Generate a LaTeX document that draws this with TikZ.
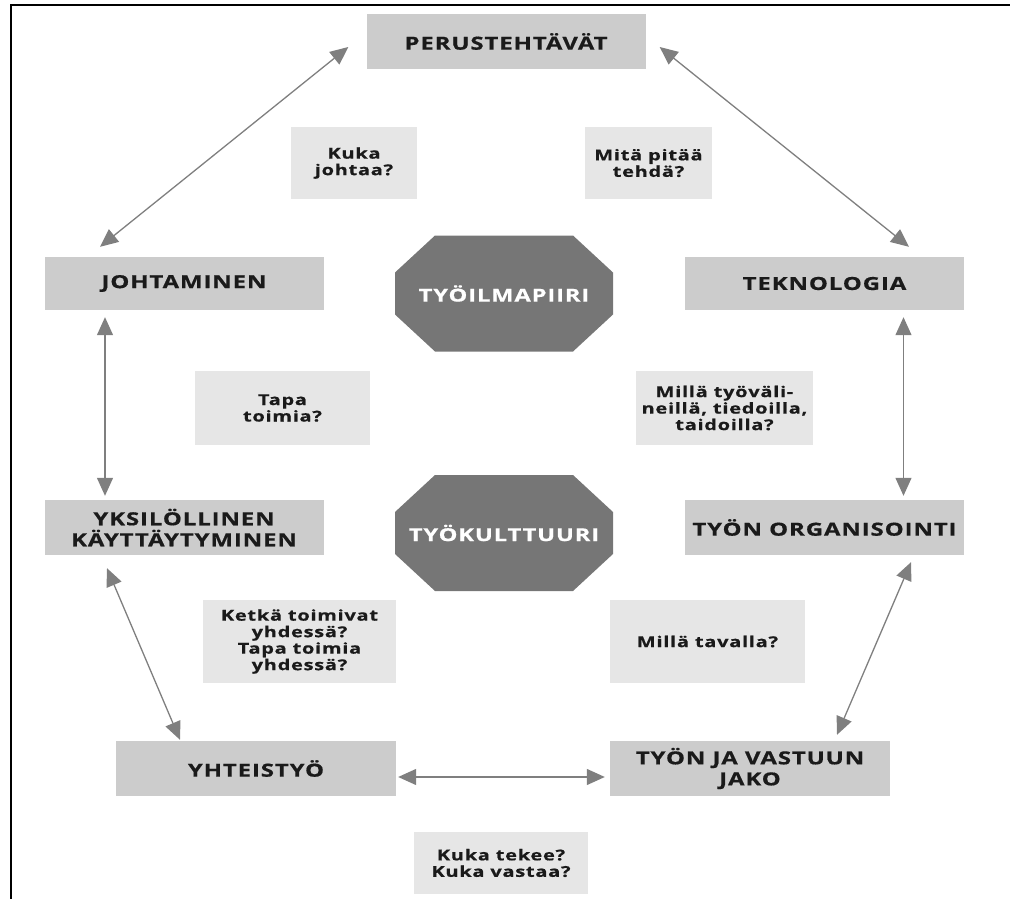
\documentclass[tikz,border=0pt]{standalone}
\usepackage{fontspec}
\usetikzlibrary{arrows.meta}
\newfontfamily\diagfont{Open Sans}[FakeStretch=1.33, LetterSpace=5, FakeBold=0.6]
\definecolor{boxgray}{HTML}{CCCCCC}
\definecolor{askgray}{HTML}{E6E6E6}
\definecolor{octgray}{HTML}{767676}
\definecolor{arrowgray}{HTML}{7F7F7F}
\definecolor{inkcolor}{HTML}{1A1A1A}

\begin{document}
\begin{tikzpicture}[x=1pt, y=-1pt,
    every node/.style={inner sep=0pt, align=center, text=inkcolor},
    topic/.style={fill=boxgray, minimum width=279, minimum height=55,
      font=\diagfont\bfseries\fontsize{18}{21}\selectfont},
    ask/.style={fill=askgray, font=\diagfont\bfseries\fontsize{15}{16.5}\selectfont},
    octa/.style={minimum width=218, minimum height=116, text=white,
      font=\diagfont\bfseries\fontsize{17.8}{19}\selectfont,
      path picture={\fill[octgray]
        ([xshift=40pt]path picture bounding box.north west)
        -- ([xshift=-40pt]path picture bounding box.north east)
        -- ([yshift=-37pt]path picture bounding box.north east)
        -- ([yshift=37pt]path picture bounding box.south east)
        -- ([xshift=-40pt]path picture bounding box.south east)
        -- ([xshift=40pt]path picture bounding box.south west)
        -- ([yshift=37pt]path picture bounding box.south west)
        -- ([yshift=-37pt]path picture bounding box.north west) -- cycle;}},
    link/.style={arrowgray, line width=1.3pt,
      {Triangle[length=18pt, width=16pt]}-{Triangle[length=18pt, width=16pt]}}]

    \useasboundingbox (0,0) rectangle (1010,899);

    % Frame
    \draw[line width=2pt] (10.5,899) -- (10.5,5.5) -- (1010,5.5);

    % Topics
    \node[topic] (perus) at (506,41.5) {PERUSTEHTÄVÄT};
    \node[topic, minimum height=53] (joh) at (184,283.5) {JOHTAMINEN};
    \node[topic, minimum height=53] (tekno) at (824.5,283.5) {TEKNOLOGIA};
    \node[topic] (yksi) at (184,527.5) {YKSILÖLLINEN\\KÄYTTÄYTYMINEN};
    \node[topic] (org) at (824.5,527.5) {TYÖN ORGANISOINTI};
    \node[topic, minimum width=280] (yht) at (256,768.5) {YHTEISTYÖ};
    \node[topic, minimum width=280] (jako) at (750,768.5) {TYÖN JA VASTUUN\\JAKO};

    % Centre
    \node[octa] (ilmapiiri) at (504,293.5) {TYÖILMAPIIRI};
    \node[octa] (kulttuuri) at (504,533) {TYÖKULTTUURI};

    % Questions
    \node[ask, minimum width=126, minimum height=72] (johtaa) at (354,163) {Kuka\\johtaa?};
    \node[ask, minimum width=127, minimum height=72] (tehda) at (648.5,163) {Mitä pitää\\tehdä?};
    \node[ask, minimum width=175, minimum height=74] (toimia) at (282.5,408) {Tapa\\toimia?};
    \node[ask, minimum width=177, minimum height=74] (valineet) at (724.5,408) {Millä työväli-\\neillä, tiedoilla,\\taidoilla?};
    \node[ask, minimum width=193, minimum height=83] (yhdessa) at (299.5,641.5) {Ketkä toimivat\\yhdessä?\\Tapa toimia\\yhdessä?};
    \node[ask, minimum width=195, minimum height=83] (tavalla) at (707.5,641.5) {Millä tavalla?};
    \node[ask, minimum width=174, minimum height=62] (vastaa) at (501,863) {Kuka tekee?\\Kuka vastaa?};

    % Links
    \draw[link] ([xshift=-18pt, yshift=-5.5pt]perus.west) -- ([xshift=-84pt, yshift=10pt]joh.north);
    \draw[link] ([xshift=14pt, yshift=-5.5pt]perus.east) -- ([xshift=84.5pt, yshift=10pt]tekno.north);
    \draw[link] ([xshift=-79pt, yshift=-7pt]joh.south) -- ([xshift=-79pt, yshift=4pt]yksi.north);
    \draw[link] ([xshift=79pt, yshift=-7pt]tekno.south) -- ([xshift=79pt, yshift=4pt]org.north);
    \draw[link] ([xshift=-77pt, yshift=-13pt]yksi.south) -- ([xshift=-76pt, yshift=1pt]yht.north);
    \draw[link] ([xshift=86.5pt, yshift=-7pt]org.south) -- ([xshift=87pt, yshift=6pt]jako.north);
    \draw[link] ([xshift=2pt, yshift=-8.5pt]yht.east) -- ([xshift=-5pt, yshift=-8.5pt]jako.west);

\end{tikzpicture}
\end{document}
